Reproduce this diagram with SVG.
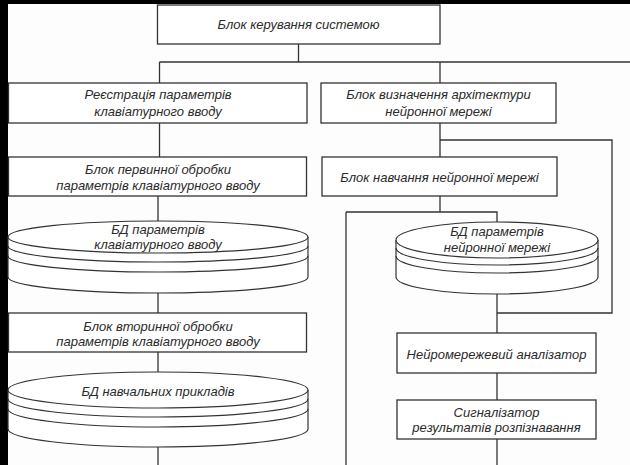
<svg xmlns="http://www.w3.org/2000/svg" width="630" height="465" viewBox="0 0 630 465">
  <style>
    .box { fill: #ffffff; stroke: #333333; stroke-width: 1.3; }
    .db { fill: #ffffff; stroke: #333333; stroke-width: 1.2; }
    .band { fill: none; stroke: #333333; stroke-width: 1.2; }
    .wire { fill: none; stroke: #333333; stroke-width: 1.3; }
    .lbl { font-family: "Liberation Sans", Arial, sans-serif; font-style: italic; font-size: 13px; fill: #2a2a2a; text-anchor: middle; }
  </style>

  <!-- page background and dark scan edges -->
  <rect x="0" y="0" width="630" height="465" fill="#fdfdfd"/>
  <rect x="0" y="0" width="630" height="4" fill="#000000"/>
  <rect x="0" y="0" width="8" height="465" fill="#000000"/>

  <!-- connectors -->
  <g id="connectors" class="wire">
    <path d="M298.5 44 V62"/>
    <path d="M159.5 62 H630"/>
    <path d="M159.5 62 V83"/>
    <path d="M440 62 V83"/>
    <path d="M159.5 123 V157"/>
    <path d="M440 123 V157"/>
    <path d="M440 140 H612 V313 H497"/>
    <path d="M440 196 V212"/>
    <path d="M346 212 H497 V222"/>
    <path d="M346 212 V465"/>
    <path d="M497 294 V333"/>
    <path d="M497 373 V400"/>
    <path d="M497 439 V465"/>
    <path d="M158 196 V221"/>
    <path d="M158 293 V313"/>
    <path d="M158 352 V372"/>
    <path d="M158 447 V465"/>
  </g>

  <!-- control block -->
  <g id="control">
    <rect class="box" x="157.5" y="5" width="282.5" height="39"/>
    <text class="lbl" x="298.5" y="29">Блок керування системою</text>
  </g>

  <g id="registration">
    <rect class="box" x="8.5" y="83" width="298.5" height="40"/>
    <text class="lbl" x="158" y="99">Реєстрація параметрів</text>
    <text class="lbl" x="158" y="116">клавіатурного вводу</text>
  </g>

  <g id="architecture">
    <rect class="box" x="321" y="83" width="235" height="40"/>
    <text class="lbl" x="438.5" y="99">Блок визначення архітектури</text>
    <text class="lbl" x="438.5" y="116">нейронної мережі</text>
  </g>

  <g id="primary">
    <rect class="box" x="8.5" y="157" width="298" height="39"/>
    <text class="lbl" x="158" y="174">Блок первинної обробки</text>
    <text class="lbl" x="158" y="190">параметрів клавіатурного вводу</text>
  </g>

  <g id="training">
    <rect class="box" x="322" y="157" width="235" height="39"/>
    <text class="lbl" x="439.5" y="182">Блок навчання нейронної мережі</text>
  </g>

  <!-- database: keyboard input parameters -->
  <g id="db-input">
    <path class="db" d="M8 237 V277 A150 16 0 0 0 308 277 V237"/>
    <path class="band" d="M8 246 A150 16 0 0 0 308 246"/>
    <path class="band" d="M8 256 A150 16 0 0 0 308 256"/>
    <ellipse class="db" cx="158" cy="237" rx="150" ry="16"/>
    <text class="lbl" x="158" y="234">БД параметрів</text>
    <text class="lbl" x="158" y="249">клавіатурного вводу</text>
  </g>

  <!-- database: network parameters -->
  <g id="db-network">
    <path class="db" d="M396 240 V277 A101 17 0 0 0 598 277 V240"/>
    <path class="band" d="M396 248 A101 17 0 0 0 598 248"/>
    <path class="band" d="M396 256 A101 17 0 0 0 598 256"/>
    <ellipse class="db" cx="497" cy="240" rx="101" ry="18"/>
    <text class="lbl" x="497" y="236">БД параметрів</text>
    <text class="lbl" x="497" y="252">нейронної мережі</text>
  </g>

  <g id="secondary">
    <rect class="box" x="8.5" y="313" width="298" height="39"/>
    <text class="lbl" x="158" y="331">Блок вторинної обробки</text>
    <text class="lbl" x="158" y="346">параметрів клавіатурного вводу</text>
  </g>

  <!-- database: training examples -->
  <g id="db-examples">
    <path class="db" d="M8 390 V429 A150 18 0 0 0 308 429 V390"/>
    <path class="band" d="M8 399 A150 18 0 0 0 308 399"/>
    <path class="band" d="M8 409 A150 18 0 0 0 308 409"/>
    <ellipse class="db" cx="158" cy="390" rx="150" ry="18"/>
    <text class="lbl" x="158" y="396">БД навчальних прикладів</text>
  </g>

  <g id="analyzer">
    <rect class="box" x="397" y="333" width="199" height="40"/>
    <text class="lbl" x="496.5" y="359">Нейромережевий аналізатор</text>
  </g>

  <g id="signaller">
    <rect class="box" x="397" y="400" width="199" height="39"/>
    <text class="lbl" x="496.5" y="417">Сигналізатор</text>
    <text class="lbl" x="496.5" y="432">результатів розпізнавання</text>
  </g>
</svg>
